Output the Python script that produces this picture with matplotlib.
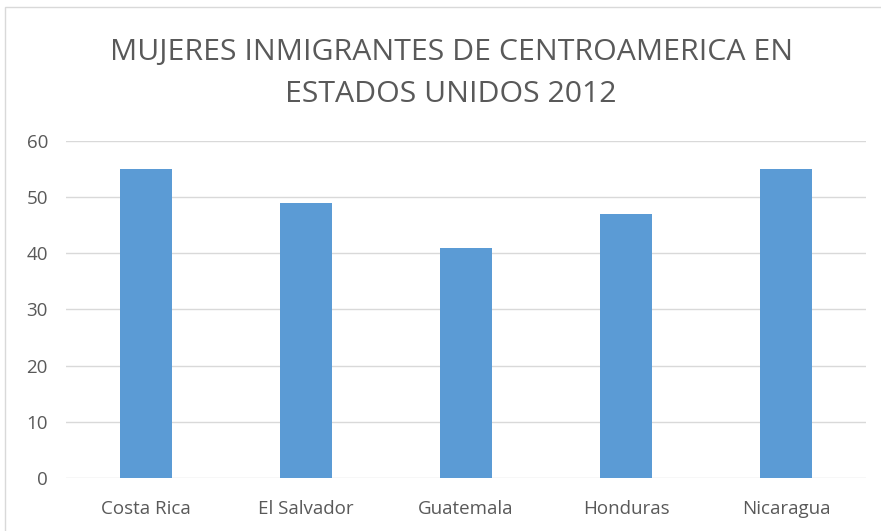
import matplotlib.pyplot as plt
from matplotlib.patches import Rectangle

paises = ['Costa Rica', 'El Salvador', 'Guatemala', 'Honduras', 'Nicaragua']
mujeres = [55, 49, 41, 47, 55]
yticks = [0, 10, 20, 30, 40, 50, 60]

plt.rcParams['font.family'] = ['Open Sans', 'DejaVu Sans']
txt = '#595959'

fig = plt.figure(figsize=(8.81, 5.31), dpi=100)
ax = fig.add_axes([0.0749, 0.0998, 0.908, 0.6347])

x = range(len(paises))
ax.bar(x, mujeres, width=0.32, color='#5B9BD5', zorder=3)
ax.set_xlim(-0.5, len(paises) - 0.5)
ax.set_ylim(0, 60)
ax.set_yticks(yticks)
ax.set_xticks(list(x))
ax.set_xticklabels(paises)
ax.grid(axis='y', color='#D9D9D9', lw=1, zorder=0)
for s in ax.spines.values():
    s.set_visible(False)
ax.tick_params(length=0, colors=txt, labelsize=13.5)
ax.tick_params(axis='x', pad=16)
ax.tick_params(axis='y', pad=13)

fig.text(0.512, 0.862, 'MUJERES INMIGRANTES DE CENTROAMERICA EN\nESTADOS UNIDOS 2012',
         ha='center', va='center', fontsize=21.8, color=txt, linespacing=1.6)

# marco del grafico
fig.patches.append(Rectangle((5 / 881, -0.1), 1.1, 1.1 - 7 / 531,
                             transform=fig.transFigure, fill=False,
                             edgecolor='#D9D9D9', lw=1))

plt.savefig('out.png', dpi=100)
